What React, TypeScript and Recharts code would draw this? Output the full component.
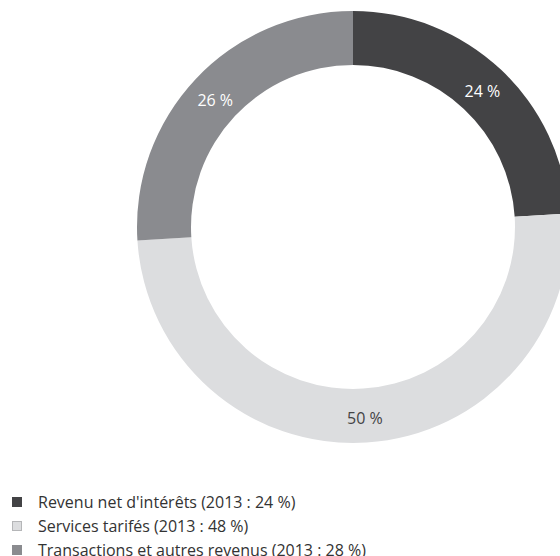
import { PieChart, Pie, Cell, Legend } from 'recharts'

const categories = ['Revenu net d\'intérêts', 'Services tarifés', 'Transactions et autres revenus']
const shares2014 = [24, 50, 26]
const shares2013 = [24, 48, 28]
const sliceColors = ['#434345', '#dcdddf', '#8a8b8f']
const labelColors = ['#ffffff', '#434345', '#ffffff']

const data = categories.map((name, i) => ({
  name,
  value: shares2014[i],
  prev: shares2013[i],
}))

const RADIAN = Math.PI / 180

const renderLabel = (props: any) => {
  const { cx, cy, midAngle, innerRadius, outerRadius, index, value } = props
  const r = (innerRadius + outerRadius) / 2
  const x = cx + r * Math.cos(-midAngle * RADIAN)
  const y = cy + r * Math.sin(-midAngle * RADIAN)
  return (
    <text
      x={x}
      y={y + 2}
      fill={labelColors[index]}
      textAnchor="middle"
      dominantBaseline="central"
      fontSize={16}
      fontFamily="'Open Sans', sans-serif"
    >
      {value} %
    </text>
  )
}

const renderLegend = () => (
  <div style={{ fontFamily: "'Open Sans', sans-serif", fontSize: 16, color: '#333' }}>
    {data.map((d, i) => (
      <div key={d.name} style={{ display: 'flex', alignItems: 'center', height: 24, whiteSpace: 'nowrap' }}>
        <span
          style={{
            display: 'inline-block',
            width: 10,
            height: 10,
            background: sliceColors[i],
            border: i === 1 ? '1px solid #b5b6b8' : 'none',
            boxSizing: 'border-box',
            marginRight: 16,
          }}
        />
        <span>
          {d.name} (2013 : {d.prev} %)
        </span>
      </div>
    ))}
  </div>
)

export default function App() {
  return (
    <div style={{ position: 'absolute', left: 0, top: 0, width: 560, height: 556, background: '#fff', overflow: 'hidden' }}>
      <PieChart width={560} height={556} margin={{ top: 0, right: 0, bottom: 0, left: 0 }}>
        <Pie
          data={data}
          dataKey="value"
          nameKey="name"
          cx={353}
          cy={227}
          innerRadius={162}
          outerRadius={216}
          startAngle={90}
          endAngle={-270}
          stroke="none"
          label={renderLabel}
          labelLine={false}
          isAnimationActive={false}
        >
          {data.map((d, i) => (
            <Cell key={d.name} fill={sliceColors[i]} />
          ))}
        </Pie>
        <Legend
          content={renderLegend}
          layout="horizontal"
          verticalAlign="bottom"
          align="left"
          wrapperStyle={{ left: 12, top: 490, bottom: 'auto', width: 540 }}
        />
      </PieChart>
    </div>
  )
}
